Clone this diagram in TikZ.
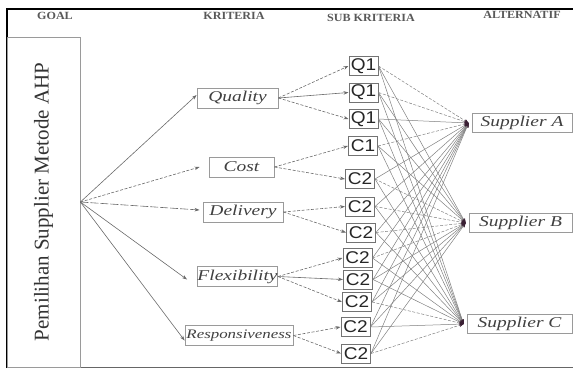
\documentclass[tikz,border=0pt]{standalone}
\usepackage{fontspec}
\setmainfont{Liberation Serif}
\newfontfamily\critfont[FakeStretch=1.3]{Liberation Serif}
\newfontfamily\subfont[FakeStretch=1.12]{Liberation Sans}
\newfontfamily\headfont[FakeStretch=1.1]{Liberation Serif}
\usetikzlibrary{arrows.meta}
\definecolor{linegray}{HTML}{6A6A6A}
\definecolor{boxgray}{HTML}{9A9A9A}
\definecolor{tipdark}{HTML}{3A1F33}
\tikzset{
  head/.style={font=\headfont\bfseries\fontsize{11}{13}\selectfont, text=black!65},
  goalbox/.style={draw=boxgray, line width=0.8pt, rotate=90, minimum width=330pt, minimum height=73pt, inner sep=0pt,
    font=\fontsize{21}{24}\selectfont, text=black!80},
  crit/.style={draw=boxgray, line width=0.8pt, minimum height=20pt, inner sep=0pt,
    font=\critfont\itshape\fontsize{15}{17}\selectfont, text=black!75},
  sub/.style={draw=black!55, line width=1pt, minimum width=29pt, minimum height=19pt, inner sep=0pt,
    font=\subfont\fontsize{17}{19}\selectfont, text=black!85},
  alt/.style={draw=boxgray, line width=0.8pt, minimum height=19pt, inner sep=0pt,
    font=\critfont\itshape\fontsize{15}{17}\selectfont, text=black!75},
  arr/.style={draw=linegray, line width=0.6pt, -{Stealth[length=5pt,width=3.5pt]}},
  dsh/.style={dash pattern=on 3pt off 1.6pt},
  link/.style={draw=linegray!85, line width=0.5pt, -{Stealth[length=4.5pt,width=3.5pt,color=tipdark,fill=tipdark]}},
  pair s1-a/.style={dsh}, pair s2-a/.style={dsh}, pair s4-a/.style={dsh},
  pair s5-b/.style={dsh}, pair s6-b/.style={dsh}, pair s7-b/.style={dsh}, pair s8-b/.style={dsh},
  pair s10-cc/.style={dsh}, pair s12-cc/.style={dsh},
}
\begin{document}
\begin{tikzpicture}[x=1pt,y=-1pt]
\useasboundingbox (0,0) rectangle (573,368);
% frame
\draw[line width=2pt] (7,368) -- (7,9) -- (573,9);
\draw[line width=1pt, black!60] (7,367) -- (573,367);

% headers
\node[head] (hgoal) at (55,16) {GOAL};
\node[head] (hkrit) at (234,16) {KRITERIA};
\node[head] (hsub) at (371,18) {SUB KRITERIA};
\node[head] (halt) at (522,15) {ALTERNATIF};

% goal
\node[goalbox] (goal) at (43.5,202) {Pemilihan Supplier Metode AHP};

% criteria
\node[crit, minimum width=81pt] (q) at (237.5,98) {Quality};
\node[crit, minimum width=65pt] (c) at (241.5,167) {Cost};
\node[crit, minimum width=80pt] (d) at (243,212) {Delivery};
\node[crit, minimum width=79pt] (f) at (237.5,276.5) {Flexibility};
\node[crit, minimum width=108pt, font=\critfont\itshape\fontsize{13}{15}\selectfont] (r) at (239,335.5) {Responsiveness};

% sub criteria
\node[sub] (s1) at (363.5,66) {Q1};
\node[sub] (s2) at (363.5,92.5) {Q1};
\node[sub] (s3) at (363.5,119) {Q1};
\node[sub] (s4) at (363,146) {C1};
\node[sub] (s5) at (360,179) {C2};
\node[sub] (s6) at (360,206.5) {C2};
\node[sub] (s7) at (361,232.5) {C2};
\node[sub] (s8) at (357.5,258) {C2};
\node[sub] (s9) at (358,279.5) {C2};
\node[sub] (s10) at (357,302) {C2};
\node[sub] (s11) at (355.5,327) {C2};
\node[sub] (s12) at (356,353.5) {C2};

% alternatives
\node[alt, minimum width=100pt] (a) at (522,123) {Supplier A};
\node[alt, minimum width=103pt] (b) at (520.5,223) {Supplier B};
\node[alt, minimum width=105pt] (cc) at (519.5,324) {Supplier C};

% goal -> criteria
\draw[arr] (goal.south) -- ([yshift=3pt]q.west);
\draw[arr,dsh] (goal.south) -- ([xshift=-9pt]c.west);
\draw[arr,dash pattern=on 8pt off 2pt] (goal.south) -- ([xshift=-3pt,yshift=2pt]d.west);
\draw[arr] (goal.south) -- ([xshift=-10pt,yshift=-3pt]f.west);
\draw[arr] (goal.south) -- ([yshift=-5pt]r.west);

% criteria -> sub
\draw[arr,dsh] (q.east) -- (s1.west);
\draw[arr] (q.east) -- (s2.west);
\draw[arr,dsh] (q.east) -- (s3.west);
\draw[arr,dsh] (c.east) -- (s4.west);
\draw[arr,dsh] (c.east) -- (s5.west);
\draw[arr,dsh] (d.east) -- (s6.west);
\draw[arr,dsh] (d.east) -- (s7.west);
\draw[arr,dsh] (f.east) -- (s8.west);
\draw[arr] (f.east) -- (s9.west);
\draw[arr,dsh] (f.east) -- (s10.west);
\draw[arr,dsh] (r.east) -- (s11.west);
\draw[arr,dsh] (r.east) -- (s12.west);

% sub -> alternatives
\foreach \s in {s1,s2,s3,s4,s5,s6,s7,s8,s9,s10,s11,s12}{
  \foreach \t in {a,b,cc}{
    \draw[link, pair \s-\t/.try] (\s.east) -- ([xshift=-3pt]\t.west);
  }
}
\end{tikzpicture}
\end{document}
